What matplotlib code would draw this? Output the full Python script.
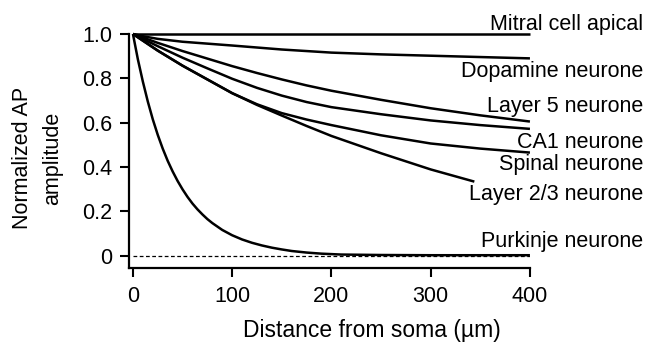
import matplotlib
matplotlib.use("Agg")
import matplotlib.pyplot as plt

plt.rcParams['font.family'] = ['Liberation Sans', 'DejaVu Sans']

# distance from soma (um) and normalized AP amplitude for each cell type
mitral_x = [0, 400]
mitral_y = [1.0, 1.0]

dopamine_x = [0, 10, 25, 50, 100, 150, 200, 250, 300, 350, 400]
dopamine_y = [1.0, 0.99, 0.978, 0.965, 0.948, 0.93, 0.916, 0.908, 0.902,
              0.896, 0.89]

layer5_x = [0, 25, 50, 75, 100, 125, 150, 175, 200, 250, 300, 350, 400]
layer5_y = [1.0, 0.96, 0.923, 0.889, 0.855, 0.824, 0.795, 0.768, 0.744,
            0.703, 0.665, 0.633, 0.605]

ca1_x = [0, 25, 50, 75, 100, 125, 150, 175, 200, 250, 300, 350, 400]
ca1_y = [1.0, 0.945, 0.893, 0.845, 0.798, 0.757, 0.722, 0.693, 0.67,
         0.638, 0.61, 0.589, 0.572]

spinal_x = [0, 25, 50, 75, 100, 125, 150, 175, 200, 250, 300, 350, 400]
spinal_y = [1.0, 0.925, 0.857, 0.795, 0.733, 0.683, 0.643, 0.614, 0.589,
            0.543, 0.506, 0.483, 0.465]

layer23_x = [0, 25, 50, 75, 100, 125, 150, 175, 200, 250, 300, 344]
layer23_y = [1.0, 0.925, 0.857, 0.795, 0.733, 0.68, 0.632, 0.585, 0.54,
             0.462, 0.389, 0.334]

purkinje_x = [0, 5, 10, 15, 20, 25, 30, 35, 40, 45, 50, 55, 60, 65, 70, 75,
              80, 90, 100, 110, 120, 130, 140, 150, 160, 175, 190, 210, 250,
              300, 400]
purkinje_y = [1.0, 0.885, 0.785, 0.695, 0.615, 0.545, 0.483, 0.428, 0.38,
              0.337, 0.299, 0.265, 0.235, 0.209, 0.186, 0.165, 0.147, 0.116,
              0.092, 0.073, 0.058, 0.046, 0.036, 0.028, 0.021, 0.014, 0.009,
              0.005, 0.003, 0.002, 0.002]

curves = [
    (mitral_x, mitral_y),
    (dopamine_x, dopamine_y),
    (layer5_x, layer5_y),
    (ca1_x, ca1_y),
    (spinal_x, spinal_y),
    (layer23_x, layer23_y),
    (purkinje_x, purkinje_y),
]

labels = ['Mitral cell apical', 'Dopamine neurone', 'Layer 5 neurone',
          'CA1 neurone', 'Spinal neurone', 'Layer 2/3 neurone',
          'Purkinje neurone']
label_y = [1.016, 0.806, 0.650, 0.485, 0.387, 0.251, 0.041]

x_ticks = [0, 100, 200, 300, 400]
y_ticks = [0, 0.2, 0.4, 0.6, 0.8, 1.0]
y_tick_labels = ['0', '0.2', '0.4', '0.6', '0.8', '1.0']

fig = plt.figure(figsize=(6.54, 3.43), dpi=100)
ax = fig.add_axes([0.1972, 0.2187, 0.6131, 0.6822])

for xs, ys in curves:
    ax.plot(xs, ys, color='black', linewidth=1.8, clip_on=False,
            solid_capstyle='butt', solid_joinstyle='round')

ax.plot([0, 400], [0, 0], color='black', linewidth=0.9, linestyle=(0, (3, 2)))

for text, ty in zip(labels, label_y):
    ax.text(514, ty, text, ha='right', va='baseline', fontsize=15.5,
            clip_on=False)

ax.set_xlim(-4, 400)
ax.set_ylim(-0.0556, 1.0)
ax.set_xticks(x_ticks)
ax.set_yticks(y_ticks)
ax.set_yticklabels(y_tick_labels)
ax.tick_params(labelsize=15.5, length=6.5, width=1.5, direction='out')
ax.tick_params(axis='x', pad=6.5)
ax.tick_params(axis='y', pad=5.5)

for side in ['top', 'right']:
    ax.spines[side].set_visible(False)
for side in ['left', 'bottom']:
    ax.spines[side].set_linewidth(1.6)

fig.text(0.569, 0.0175, 'Distance from soma (µm)', ha='center',
         va='baseline', fontsize=16.5)
fig.text(0.057, 0.539, 'Normalized AP\namplitude', ha='center', va='center',
         rotation=90, fontsize=15.5, linespacing=1.55)

fig.savefig('out.png', dpi=100)
